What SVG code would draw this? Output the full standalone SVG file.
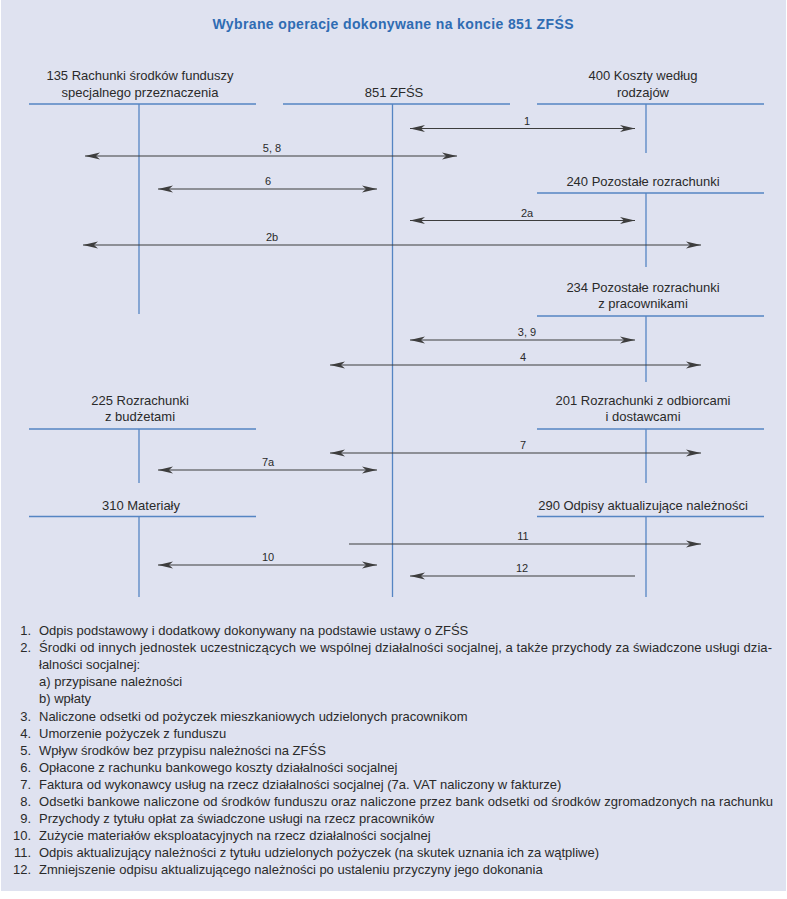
<svg xmlns="http://www.w3.org/2000/svg" width="787" height="899" viewBox="0 0 787 899">
<style>
.bg{fill:#dfe2f0}
.hd{font-family:"Liberation Sans",Arial,sans-serif;font-size:13px;fill:#2a2a2a;text-anchor:middle}
.tl{stroke:#5585c3;stroke-width:1.3;fill:none}
.ar{stroke:#3d3d3d;stroke-width:1.2;fill:none}
.lb{font-family:"Liberation Sans",Arial,sans-serif;font-size:11px;fill:#2a2a2a;text-anchor:middle}
.fn{font-family:"Liberation Sans",Arial,sans-serif;font-size:13px;fill:#2a2a2a}
.num{text-anchor:end}
.title{font-family:"Liberation Sans",Arial,sans-serif;font-size:14px;font-weight:bold;fill:#2f6cb3;text-anchor:middle}
</style>
<defs>
<marker id="ah" viewBox="0 0 15 8" refX="15" refY="4" markerWidth="15" markerHeight="8" markerUnits="userSpaceOnUse" orient="auto-start-reverse">
<path d="M0,0.6 L15,4 L0,7.4 L4,4 z" fill="#3d3d3d"/>
</marker>
</defs>
<rect class="bg" x="1" y="0" width="785" height="891"/>
<text class="title" x="393" y="29" textLength="361">Wybrane operacje dokonywane na koncie 851 ZFŚS</text>

<g id="acc135">
<text class="hd" x="140" y="80">135 Rachunki środków funduszy</text>
<text class="hd" x="140" y="96.5">specjalnego przeznaczenia</text>
<line class="tl" x1="29" y1="104" x2="256" y2="104"/>
<line class="tl" x1="139" y1="104" x2="139" y2="314"/>
</g>
<g id="acc851">
<text class="hd" x="394" y="96.5">851 ZFŚS</text>
<line class="tl" x1="283" y1="104" x2="510" y2="104"/>
<line class="tl" x1="392.5" y1="104" x2="392.5" y2="597"/>
</g>
<g id="acc400">
<text class="hd" x="643" y="80">400 Koszty według</text>
<text class="hd" x="643" y="96.5">rodzajów</text>
<line class="tl" x1="537" y1="104" x2="764" y2="104"/>
<line class="tl" x1="646" y1="104" x2="646" y2="153"/>
</g>
<g id="acc240">
<text class="hd" x="643" y="185.5">240 Pozostałe rozrachunki</text>
<line class="tl" x1="537" y1="193" x2="764" y2="193"/>
<line class="tl" x1="646" y1="193" x2="646" y2="267"/>
</g>
<g id="acc234">
<text class="hd" x="643" y="291.5">234 Pozostałe rozrachunki</text>
<text class="hd" x="643" y="308">z pracownikami</text>
<line class="tl" x1="537" y1="316" x2="764" y2="316"/>
<line class="tl" x1="646" y1="316" x2="646" y2="382"/>
</g>
<g id="acc225">
<text class="hd" x="140" y="404.5">225 Rozrachunki</text>
<text class="hd" x="140" y="421">z budżetami</text>
<line class="tl" x1="29" y1="429" x2="256" y2="429"/>
<line class="tl" x1="139" y1="429" x2="139" y2="483"/>
</g>
<g id="acc201">
<text class="hd" x="643" y="404.5">201 Rozrachunki z odbiorcami</text>
<text class="hd" x="643" y="421">i dostawcami</text>
<line class="tl" x1="537" y1="429" x2="764" y2="429"/>
<line class="tl" x1="646" y1="429" x2="646" y2="483"/>
</g>
<g id="acc310">
<text class="hd" x="141" y="509.5">310 Materiały</text>
<line class="tl" x1="29" y1="516.5" x2="256" y2="516.5"/>
<line class="tl" x1="139" y1="516.5" x2="139" y2="597"/>
</g>
<g id="acc290">
<text class="hd" x="643" y="509.5">290 Odpisy aktualizujące należności</text>
<line class="tl" x1="537" y1="516.5" x2="764" y2="516.5"/>
<line class="tl" x1="646" y1="516.5" x2="646" y2="597"/>
</g>

<g id="connectors">
<line class="ar" x1="410" y1="128.5" x2="635" y2="128.5" marker-start="url(#ah)" marker-end="url(#ah)"/>
<text class="lb" x="527" y="124.5">1</text>
<line class="ar" x1="85" y1="156" x2="457" y2="156" marker-start="url(#ah)" marker-end="url(#ah)"/>
<text class="lb" x="272" y="152">5, 8</text>
<line class="ar" x1="158" y1="189" x2="377" y2="189" marker-start="url(#ah)" marker-end="url(#ah)"/>
<text class="lb" x="268" y="185">6</text>
<line class="ar" x1="410" y1="220.5" x2="635" y2="220.5" marker-start="url(#ah)" marker-end="url(#ah)"/>
<text class="lb" x="527" y="216.5">2a</text>
<line class="ar" x1="83" y1="245" x2="701" y2="245" marker-start="url(#ah)" marker-end="url(#ah)"/>
<text class="lb" x="272" y="241">2b</text>
<line class="ar" x1="410" y1="340" x2="635" y2="340" marker-start="url(#ah)" marker-end="url(#ah)"/>
<text class="lb" x="527" y="336">3, 9</text>
<line class="ar" x1="330" y1="365" x2="701" y2="365" marker-start="url(#ah)" marker-end="url(#ah)"/>
<text class="lb" x="523" y="361">4</text>
<line class="ar" x1="330" y1="453" x2="701" y2="453" marker-start="url(#ah)" marker-end="url(#ah)"/>
<text class="lb" x="523" y="449">7</text>
<line class="ar" x1="158" y1="470" x2="377" y2="470" marker-start="url(#ah)" marker-end="url(#ah)"/>
<text class="lb" x="268" y="466">7a</text>
<line class="ar" x1="349" y1="544" x2="701" y2="544" marker-end="url(#ah)"/>
<text class="lb" x="523" y="540">11</text>
<line class="ar" x1="158" y1="565" x2="377" y2="565" marker-start="url(#ah)" marker-end="url(#ah)"/>
<text class="lb" x="268" y="561">10</text>
<line class="ar" x1="635" y1="576" x2="410" y2="576" marker-end="url(#ah)"/>
<text class="lb" x="522" y="572">12</text>
</g>

<g id="legend" class="fn">
<text class="num" x="31" y="635">1.</text>
<text x="39" y="635">Odpis podstawowy i dodatkowy dokonywany na podstawie ustawy o ZFŚS</text>
<text class="num" x="31" y="652.1">2.</text>
<text x="39" y="652.1" textLength="733">Środki od innych jednostek uczestniczących we wspólnej działalności socjalnej, a także przychody za świadczone usługi dzia-</text>
<text x="39" y="669.2">łalności socjalnej:</text>
<text x="39" y="686.3">a) przypisane należności</text>
<text x="39" y="703.4">b) wpłaty</text>
<text class="num" x="31" y="720.5">3.</text>
<text x="39" y="720.5">Naliczone odsetki od pożyczek mieszkaniowych udzielonych pracownikom</text>
<text class="num" x="31" y="737.6">4.</text>
<text x="39" y="737.6">Umorzenie pożyczek z funduszu</text>
<text class="num" x="31" y="754.7">5.</text>
<text x="39" y="754.7">Wpływ środków bez przypisu należności na ZFŚS</text>
<text class="num" x="31" y="771.8">6.</text>
<text x="39" y="771.8">Opłacone z rachunku bankowego koszty działalności socjalnej</text>
<text class="num" x="31" y="788.9">7.</text>
<text x="39" y="788.9">Faktura od wykonawcy usług na rzecz działalności socjalnej (7a. VAT naliczony w fakturze)</text>
<text class="num" x="31" y="806">8.</text>
<text x="39" y="806" textLength="734">Odsetki bankowe naliczone od środków funduszu oraz naliczone przez bank odsetki od środków zgromadzonych na rachunku</text>
<text class="num" x="31" y="823.1">9.</text>
<text x="39" y="823.1">Przychody z tytułu opłat za świadczone usługi na rzecz pracowników</text>
<text class="num" x="31" y="840.2">10.</text>
<text x="39" y="840.2">Zużycie materiałów eksploatacyjnych na rzecz działalności socjalnej</text>
<text class="num" x="31" y="857.3">11.</text>
<text x="39" y="857.3">Odpis aktualizujący należności z tytułu udzielonych pożyczek (na skutek uznania ich za wątpliwe)</text>
<text class="num" x="31" y="874.4">12.</text>
<text x="39" y="874.4">Zmniejszenie odpisu aktualizującego należności po ustaleniu przyczyny jego dokonania</text>
</g>
</svg>
